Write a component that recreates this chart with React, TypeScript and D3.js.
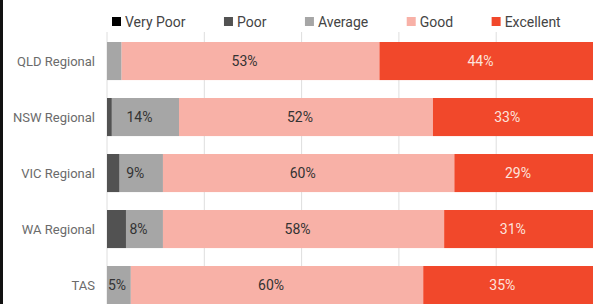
import React, { useEffect, useRef } from "react";
import * as d3 from "d3";

const regions = ["QLD Regional", "NSW Regional", "VIC Regional", "WA Regional", "TAS"];
const ratings = ["Very Poor", "Poor", "Average", "Good", "Excellent"];
const colors = ["#000000", "#525252", "#a6a6a6", "#f8b1a7", "#f1482b"];

// share of answers per region, in ratings order
const veryPoor = [0, 0, 0, 0, 0];
const poor = [0, 1, 2.6, 3.9, 0];
const average = [3, 13.8, 8.9, 7.6, 4.9];
const good = [53, 52.2, 59.9, 57.8, 60.1];
const excellent = [44, 33, 28.6, 30.7, 35];

const W = 593;
const H = 304;
const FONT = "Roboto, 'Noto Sans', sans-serif";

const App = () => {
  const svgRef = useRef(null);

  useEffect(() => {
    const svg = d3.select(svgRef.current);
    svg.selectAll("*").remove();

    const series = [veryPoor, poor, average, good, excellent];
    const rows = regions.map((r, i) => {
      const row: any = { region: r };
      ratings.forEach((k, j) => (row[k] = series[j][i]));
      return row;
    });
    const stacked = d3.stack().keys(ratings)(rows);

    const x = d3.scaleLinear().domain([0, 100]).range([107, 593.5]);
    const y = d3.scaleBand().domain(regions).range([42, 304.08]).paddingInner(0.32).paddingOuter(0);

    // left frame edge
    svg.append("rect").attr("x", 0).attr("y", 0).attr("width", 3).attr("height", H).attr("fill", "#111");

    // gridlines
    svg.append("g")
      .selectAll("line")
      .data(x.ticks(5))
      .join("line")
      .attr("x1", d => x(d))
      .attr("x2", d => x(d))
      .attr("y1", 32)
      .attr("y2", H)
      .attr("stroke", "#dedede")
      .attr("stroke-width", 1);

    // bars
    const layers = svg.append("g")
      .selectAll("g")
      .data(stacked)
      .join("g")
      .attr("fill", (d, i) => colors[i]);

    layers.selectAll("rect")
      .data(d => d)
      .join("rect")
      .attr("x", d => x(d[0]))
      .attr("width", d => Math.max(0, x(d[1]) - x(d[0])))
      .attr("y", (d: any) => y(d.data.region))
      .attr("height", y.bandwidth());

    // value labels
    stacked.forEach((layer, li) => {
      layer.forEach((d: any) => {
        const v = d[1] - d[0];
        if (v < 4.5) return;
        const t = svg.append("text")
          .attr("y", y(d.data.region) + y.bandwidth() / 2)
          .attr("dy", "0.35em")
          .attr("text-anchor", "middle")
          .attr("font-family", FONT)
          .attr("font-size", 14)
          .attr("fill", li === 4 ? "#fde3dd" : "#333")
          .text(`${Math.round(v)}%`);
        const tw = (t.node() as any).getComputedTextLength();
        const mid = (x(d[0]) + x(d[1])) / 2 - 6;
        t.attr("x", Math.max(mid, x(d[0]) + tw / 2 + 1));
      });
    });

    // region labels
    svg.append("g")
      .selectAll("text")
      .data(regions)
      .join("text")
      .attr("x", 95)
      .attr("y", d => y(d) + y.bandwidth() / 2)
      .attr("dy", "0.35em")
      .attr("text-anchor", "end")
      .attr("font-family", FONT)
      .attr("font-size", 13)
      .attr("fill", "#6b6b6b")
      .text(d => d);

    // legend
    let lx = 112;
    ratings.forEach((r, i) => {
      svg.append("rect")
        .attr("x", lx)
        .attr("y", 17)
        .attr("width", 9)
        .attr("height", 9)
        .attr("fill", colors[i]);
      const t = svg.append("text")
        .attr("x", lx + 13)
        .attr("y", 26.5)
        .attr("font-family", FONT)
        .attr("font-size", 14)
        .attr("fill", "#444")
        .text(r);
      lx += 13 + (t.node() as any).getComputedTextLength() + 38.5;
    });
  }, []);

  return (
    <svg
      ref={svgRef}
      width={W}
      height={H}
      style={{ position: "absolute", left: 0, top: 0, background: "#fff" }}
    ></svg>
  );
};

export default App;
